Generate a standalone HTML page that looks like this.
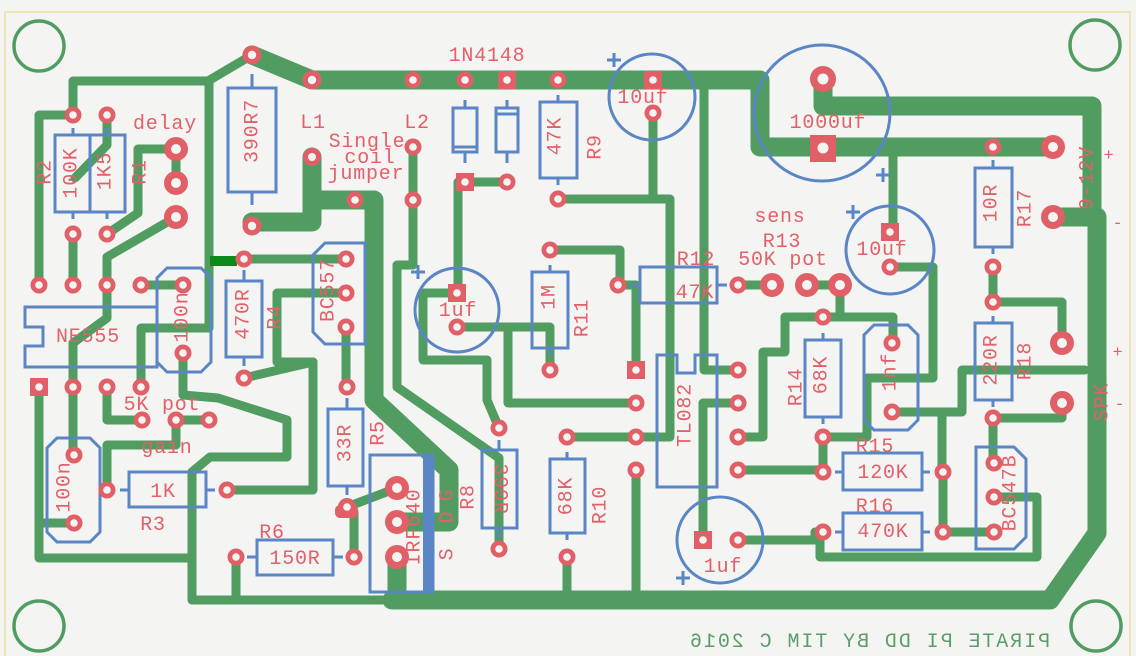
<!DOCTYPE html>
<html><head><meta charset="utf-8"><style>
html,body{margin:0;padding:0;background:#f4f4f2;overflow:hidden;width:1136px;height:656px;}
svg{display:block}
text{font-family:"Liberation Mono","DejaVu Sans Mono",monospace;font-size:20px;fill:#e3606a;letter-spacing:0.8px}
.r{text-anchor:middle;dominant-baseline:central}
</style></head><body>
<svg width="1136" height="656" viewBox="0 0 1136 656" xmlns="http://www.w3.org/2000/svg">
<rect width="1136" height="656" fill="#f4f4f2"/>
<path d="M5,656 V12 H1130 V656" fill="none" stroke="#e8dc8c" stroke-width="1.2"/>
<g fill="none" stroke="#519c61" stroke-width="3.5">
<circle cx="39" cy="46" r="25"/><circle cx="1095" cy="45" r="25"/><circle cx="39" cy="626" r="25"/><circle cx="1096" cy="626" r="25"/>
</g>
<!-- thin traces -->
<g fill="none" stroke="#519c61" stroke-width="9" stroke-linejoin="round" stroke-linecap="round">
<path d="M39,285 V115 H73"/>
<path d="M73,115 V81 H208 L252,55"/>
<path d="M209,81 V328 H141 V387"/>
<path d="M107,115 V145 L75,178"/>
<path d="M107,234 L138,213 V149 H176 V183"/>
<path d="M176,217 L107,257 V318 L73,343 V387"/>
<path d="M73,234 V285"/>
<path d="M141,285 H183"/>
<path d="M183,353 V395 L218,398 L287,420 V457 H210 L192,472 V600"/>
<path d="M39,387 V558 H192"/>
<path d="M107,387 V420 H142"/>
<path d="M176,420 H209"/>
<path d="M176,420 V445 H107 V490"/>
<path d="M73,387 V455"/>
<path d="M74,523 H39"/>
<path d="M227,490 H313 V362 L244,378"/>
<path d="M346,293 H277 V362 H313"/>
<path d="M244,259 H346"/>
<path d="M346,327 V387"/>
<path d="M236,557 V600"/>
<path d="M354,557 V512 L347,507 L397,488"/>
<path d="M192,600 H392"/>
<path d="M413,147 V265 H397 V387 L499,458 V549"/>
<path d="M465,182 H507"/>
<path d="M458,182 V293"/>
<path d="M457,293 H423 V360 H487 V400 L499,428"/>
<path d="M457,327 H550 V370"/>
<path d="M508,327 V403 H636"/>
<path d="M550,250 H620 V285"/>
<path d="M618,285 H636 V370"/>
<path d="M558,199 H670 V437 H567"/>
<path d="M653,113 V199"/>
<path d="M704,80 V370 H738"/>
<path d="M636,470 V600"/>
<path d="M567,557 V600"/>
<path d="M703,540 V403 H738"/>
<path d="M738,285 H772"/>
<path d="M807,285 H840 V317 H785 V352 H763 V437 H738"/>
<path d="M785,317 H893 V343"/>
<path d="M738,470 H823"/>
<path d="M823,437 V472"/>
<path d="M890,267 H933 V378 H867 V437 H823"/>
<path d="M893,147 V232"/>
<path d="M738,540 H815 V532 H823"/>
<path d="M820,532 V557 H1037 V497 H994"/>
<path d="M943,472 V532 H994"/>
<path d="M892,412 H962 V370 H1085"/>
<path d="M942,412 V472"/>
<path d="M993,267 V302 H1062 V343"/>
<path d="M993,418 V463"/>
<path d="M993,418 H1062 V403"/>
</g>
<!-- thick traces -->
<g fill="none" stroke="#519c61" stroke-width="19" stroke-linejoin="round" stroke-linecap="round">
<path d="M312,80 H760 V147 H1053"/>
<path d="M252,55 L312,80"/>
<path d="M823,79 V106 H1092 V208"/>
<path d="M1053,217 H1097 V533 L1050,600 H392"/>
<path d="M312,157 V222 H252"/>
<path d="M312,200 H374 V400 L449,470 V522 H397"/>
<path d="M397,557 V600"/>
</g>
<rect x="210" y="256" width="27" height="10" fill="#0b8a1b"/>
<!-- silkscreen -->
<g fill="none" stroke="#5b86c6" stroke-width="3">
<rect x="55" y="135" width="35" height="77"/><rect x="90" y="135" width="35" height="77"/>
<path d="M73,128V135 M73,212V219 M107,128V135 M107,212V219"/>
<rect x="228" y="88" width="48" height="104"/><path d="M252,74V88 M252,192V205"/>
<path d="M25,307 H157 V367 H25 V346 H43 V327 H25 Z"/>
<path d="M167,268 H201 L211,278 V362 L201,372 H167 L157,362 V278 Z"/>
<rect x="226" y="281" width="36" height="76"/><path d="M244,270V281 M244,357V366"/>
<path d="M325,243 H365 V344 H325 L313,332 V255 Z"/>
<rect x="328" y="409" width="35" height="77"/><path d="M347,398V409 M347,486V495"/>
<rect x="370" y="455" width="63" height="137"/>
<rect x="482" y="450" width="35" height="78"/><path d="M499,440V450 M499,528V538"/>
<rect x="257" y="540" width="76" height="35"/><path d="M247,557H257 M333,557H343"/>
<rect x="129" y="472" width="77" height="35"/><path d="M120,490H129 M206,490H215"/>
<path d="M57,438 H90 L100,448 V532 L90,542 H57 L47,532 V448 Z"/>
<rect x="453" y="108" width="24" height="44"/><path d="M453,147H477 M465,100V108 M465,152V163"/>
<rect x="496" y="108" width="22" height="44"/><path d="M496,114H518 M507,100V108 M507,152V163"/>
<rect x="540" y="102" width="37" height="76"/><path d="M558,95V102 M558,178V185"/>
<circle cx="652" cy="97" r="43"/><circle cx="822" cy="113" r="68"/><circle cx="457" cy="310" r="42"/><circle cx="720" cy="540" r="43"/><circle cx="890" cy="250" r="44"/>
<rect x="532" y="272" width="36" height="76"/><path d="M550,265V272 M550,348V355"/>
<rect x="640" y="267" width="77" height="36"/><path d="M630,285H640 M717,285H727"/>
<path d="M657,355 H677 V373 H695 V355 H717 V487 H657 Z"/>
<rect x="550" y="459" width="35" height="74"/><path d="M567,452V459 M567,533V540"/>
<rect x="805" y="340" width="36" height="77"/><path d="M823,333V340 M823,417V424"/>
<path d="M874,325 H908 L918,335 V420 L908,430 H874 L864,420 V335 Z"/>
<rect x="975" y="168" width="37" height="79"/><path d="M993,160V168 M993,247V254"/>
<rect x="975" y="323" width="37" height="77"/><path d="M993,316V323 M993,400V407"/>
<rect x="843" y="453" width="79" height="37"/><path d="M835,472H843 M922,472H930"/>
<rect x="843" y="513" width="79" height="37"/><path d="M835,532H843 M922,532H930"/>
<path d="M976,447 H1014 L1026,459 V537 L1014,549 H976 Z"/>
<path d="M607,60H621 M614,53V67 M411,272H425 M418,265V279 M846,212H860 M853,205V219 M876,175H890 M883,168V182 M676,578H690 M683,571V585"/>
</g>
<rect x="423" y="455" width="10" height="137" fill="#5b86c6"/>
<!-- pads -->
<g fill="#e15f66">
<circle cx="73" cy="115" r="8.5"/><circle cx="107" cy="115" r="8.5"/><circle cx="73" cy="234" r="8.5"/><circle cx="107" cy="234" r="8.5"/>
<circle cx="39" cy="285" r="8.5"/><circle cx="73" cy="285" r="8.5"/><circle cx="107" cy="285" r="8.5"/><circle cx="141" cy="285" r="8.5"/>
<circle cx="183" cy="285" r="8.5"/><circle cx="183" cy="353" r="8.5"/><circle cx="73" cy="387" r="8.5"/><circle cx="107" cy="387" r="8.5"/><circle cx="141" cy="387" r="8.5"/>
<circle cx="244" cy="259" r="8.5"/><circle cx="244" cy="378" r="8.5"/><circle cx="346" cy="259" r="8.5"/><circle cx="346" cy="293" r="8.5"/><circle cx="346" cy="327" r="8.5"/><circle cx="347" cy="387" r="8.5"/>
<circle cx="252" cy="55" r="9.5"/><circle cx="312" cy="80" r="9.5"/><circle cx="252" cy="226" r="9.5"/><circle cx="312" cy="157" r="9"/><circle cx="355" cy="200" r="8.5"/>
<circle cx="413" cy="80" r="8.5"/><circle cx="465" cy="80" r="8.5"/><circle cx="558" cy="80" r="8.5"/><circle cx="413" cy="147" r="8.5"/><circle cx="413" cy="200" r="8.5"/>
<circle cx="507" cy="182" r="8.5"/><circle cx="558" cy="199" r="8.5"/><circle cx="653" cy="113" r="8.5"/><circle cx="457" cy="327" r="8.5"/>
<circle cx="550" cy="250" r="8.5"/><circle cx="550" cy="370" r="8.5"/><circle cx="618" cy="285" r="8.5"/><circle cx="738" cy="285" r="8.5"/>
<circle cx="636" cy="403" r="8.5"/><circle cx="636" cy="437" r="8.5"/><circle cx="636" cy="470" r="8.5"/>
<circle cx="738" cy="370" r="8.5"/><circle cx="738" cy="403" r="8.5"/><circle cx="738" cy="437" r="8.5"/><circle cx="738" cy="470" r="8.5"/>
<circle cx="567" cy="437" r="8.5"/><circle cx="567" cy="557" r="8.5"/><circle cx="499" cy="428" r="8.5"/><circle cx="499" cy="549" r="8.5"/>
<circle cx="142" cy="420" r="8.5"/><circle cx="176" cy="420" r="8.5"/><circle cx="209" cy="420" r="8.5"/>
<circle cx="107" cy="490" r="8.5"/><circle cx="227" cy="490" r="8.5"/><circle cx="74" cy="455" r="8.5"/><circle cx="74" cy="523" r="8.5"/>
<circle cx="236" cy="557" r="8.5"/><circle cx="354" cy="557" r="8.5"/>
<circle cx="823" cy="317" r="8.5"/><circle cx="823" cy="437" r="8.5"/><circle cx="823" cy="472" r="8.5"/><circle cx="943" cy="472" r="8.5"/>
<circle cx="823" cy="532" r="8.5"/><circle cx="943" cy="532" r="8.5"/><circle cx="738" cy="540" r="8.5"/>
<circle cx="890" cy="267" r="8.5"/><circle cx="892" cy="343" r="8.5"/><circle cx="892" cy="412" r="8.5"/>
<circle cx="993" cy="147" r="8.5"/><circle cx="993" cy="267" r="8.5"/><circle cx="993" cy="302" r="8.5"/><circle cx="993" cy="418" r="8.5"/>
<circle cx="994" cy="463" r="8.5"/><circle cx="994" cy="497" r="8.5"/><circle cx="994" cy="532" r="8.5"/>
<circle cx="176" cy="149" r="12"/><circle cx="176" cy="183" r="12"/><circle cx="176" cy="217" r="12"/>
<circle cx="397" cy="488" r="12"/><circle cx="397" cy="522" r="12"/><circle cx="397" cy="557" r="12"/>
<circle cx="772" cy="285" r="12"/><circle cx="807" cy="285" r="12"/><circle cx="840" cy="285" r="12"/>
<circle cx="1053" cy="147" r="12"/><circle cx="1053" cy="217" r="12"/><circle cx="1062" cy="343" r="12"/><circle cx="1062" cy="403" r="12"/>
<circle cx="823" cy="79" r="13"/>
<rect x="30" y="378" width="18" height="18"/><rect x="456" y="173" width="18" height="18"/><rect x="498" y="71" width="18" height="18"/>
<rect x="644" y="71" width="18" height="18"/><rect x="448" y="284" width="18" height="18"/><rect x="627" y="361" width="18" height="18"/>
<rect x="694" y="531" width="18" height="18"/><rect x="881" y="223" width="18" height="18"/><rect x="810" y="135" width="26" height="27"/>
<circle cx="347" cy="507" r="9"/><rect x="335" y="505" width="23" height="13" rx="5"/>
</g>
<g fill="#f4f4f2">
<circle cx="73" cy="115" r="3.8"/><circle cx="107" cy="115" r="3.8"/><circle cx="73" cy="234" r="3.8"/><circle cx="107" cy="234" r="3.8"/>
<circle cx="39" cy="285" r="3.8"/><circle cx="73" cy="285" r="3.8"/><circle cx="107" cy="285" r="3.8"/><circle cx="141" cy="285" r="3.8"/>
<circle cx="183" cy="285" r="3.8"/><circle cx="183" cy="353" r="3.8"/><circle cx="73" cy="387" r="3.8"/><circle cx="107" cy="387" r="3.8"/><circle cx="141" cy="387" r="3.8"/>
<circle cx="244" cy="259" r="3.8"/><circle cx="244" cy="378" r="3.8"/><circle cx="346" cy="259" r="3.8"/><circle cx="346" cy="293" r="3.8"/><circle cx="346" cy="327" r="3.8"/><circle cx="347" cy="387" r="3.8"/>
<circle cx="252" cy="55" r="4.2"/><circle cx="312" cy="80" r="4.2"/><circle cx="252" cy="226" r="4.2"/><circle cx="312" cy="157" r="4"/><circle cx="355" cy="200" r="3.8"/>
<circle cx="413" cy="80" r="3.8"/><circle cx="465" cy="80" r="3.8"/><circle cx="558" cy="80" r="3.8"/><circle cx="413" cy="147" r="3.8"/><circle cx="413" cy="200" r="3.8"/>
<circle cx="507" cy="182" r="3.8"/><circle cx="558" cy="199" r="3.8"/><circle cx="653" cy="113" r="3.8"/><circle cx="457" cy="327" r="3.8"/>
<circle cx="550" cy="250" r="3.8"/><circle cx="550" cy="370" r="3.8"/><circle cx="618" cy="285" r="3.8"/><circle cx="738" cy="285" r="3.8"/>
<circle cx="636" cy="403" r="3.8"/><circle cx="636" cy="437" r="3.8"/><circle cx="636" cy="470" r="3.8"/>
<circle cx="738" cy="370" r="3.8"/><circle cx="738" cy="403" r="3.8"/><circle cx="738" cy="437" r="3.8"/><circle cx="738" cy="470" r="3.8"/>
<circle cx="567" cy="437" r="3.8"/><circle cx="567" cy="557" r="3.8"/><circle cx="499" cy="428" r="3.8"/><circle cx="499" cy="549" r="3.8"/>
<circle cx="142" cy="420" r="3.8"/><circle cx="176" cy="420" r="3.8"/><circle cx="209" cy="420" r="3.8"/>
<circle cx="107" cy="490" r="3.8"/><circle cx="227" cy="490" r="3.8"/><circle cx="74" cy="455" r="3.8"/><circle cx="74" cy="523" r="3.8"/>
<circle cx="236" cy="557" r="3.8"/><circle cx="354" cy="557" r="3.8"/>
<circle cx="823" cy="317" r="3.8"/><circle cx="823" cy="437" r="3.8"/><circle cx="823" cy="472" r="3.8"/><circle cx="943" cy="472" r="3.8"/>
<circle cx="823" cy="532" r="3.8"/><circle cx="943" cy="532" r="3.8"/><circle cx="738" cy="540" r="3.8"/>
<circle cx="890" cy="267" r="3.8"/><circle cx="892" cy="343" r="3.8"/><circle cx="892" cy="412" r="3.8"/>
<circle cx="993" cy="147" r="3.8"/><circle cx="993" cy="267" r="3.8"/><circle cx="993" cy="302" r="3.8"/><circle cx="993" cy="418" r="3.8"/>
<circle cx="994" cy="463" r="3.8"/><circle cx="994" cy="497" r="3.8"/><circle cx="994" cy="532" r="3.8"/>
<circle cx="176" cy="149" r="5"/><circle cx="176" cy="183" r="5"/><circle cx="176" cy="217" r="5"/>
<circle cx="397" cy="488" r="5"/><circle cx="397" cy="522" r="5"/><circle cx="397" cy="557" r="5"/>
<circle cx="772" cy="285" r="5"/><circle cx="807" cy="285" r="5"/><circle cx="840" cy="285" r="5"/>
<circle cx="1053" cy="147" r="5"/><circle cx="1053" cy="217" r="5"/><circle cx="1062" cy="343" r="5"/><circle cx="1062" cy="403" r="5"/>
<circle cx="823" cy="79" r="5.5"/>
<circle cx="39" cy="387" r="3.8"/><circle cx="465" cy="182" r="3.8"/><circle cx="507" cy="80" r="3.8"/>
<circle cx="653" cy="80" r="3.8"/><circle cx="457" cy="293" r="3.8"/><circle cx="636" cy="370" r="3.8"/>
<circle cx="703" cy="540" r="3.8"/><circle cx="890" cy="232" r="3.8"/><circle cx="823" cy="148" r="5.5"/>
<circle cx="347" cy="507" r="3.8"/>
</g>
<!-- horizontal labels -->
<g text-anchor="middle">
<text x="165" y="129">delay</text>
<text x="313" y="128">L1</text>
<text x="367" y="147">Single</text>
<text x="370" y="163">coil</text>
<text x="366" y="179">jumper</text>
<text x="417" y="128">L2</text>
<text x="487" y="61">1N4148</text>
<text x="643" y="103">10uf</text>
<text x="828" y="128">1000uf</text>
<text x="780" y="222">sens</text>
<text x="782" y="247">R13</text>
<text x="783" y="265">50K pot</text>
<text x="882" y="255">10uf</text>
<text x="696" y="265">R12</text>
<text x="695" y="298">47K</text>
<text x="88" y="342">NE555</text>
<text x="162" y="410">5K pot</text>
<text x="167" y="453">gain</text>
<text x="163" y="497">1K</text>
<text x="153" y="530">R3</text>
<text x="272" y="538">R6</text>
<text x="295" y="564">150R</text>
<text x="458" y="316">1uf</text>
<text x="723" y="572">1uf</text>
<text x="875" y="452">R15</text>
<text x="883" y="478">120K</text>
<text x="875" y="512">R16</text>
<text x="883" y="537">470K</text>
<text x="1109" y="160" style="font-size:17px">+</text>
<text x="1118" y="228" style="font-size:17px">-</text>
<text x="1118" y="357" style="font-size:17px">+</text>
<text x="1120" y="409" style="font-size:17px">-</text>
</g>
<!-- rotated labels -->
<text class="r" transform="translate(46,172) rotate(-90)">R2</text>
<text class="r" transform="translate(72,173) rotate(-90)">100K</text>
<text class="r" transform="translate(106,171) rotate(-90)">1K5</text>
<text class="r" transform="translate(141,172) rotate(-90)">R1</text>
<text class="r" transform="translate(253,131) rotate(-90)">390R7</text>
<text class="r" transform="translate(276,317) rotate(-90)">R4</text>
<text class="r" transform="translate(244,314) rotate(-90)">470R</text>
<text class="r" transform="translate(329,290) rotate(-90)">BC557</text>
<text class="r" transform="translate(183,317) rotate(-90)">100n</text>
<text class="r" transform="translate(65,487) rotate(-90)">100n</text>
<text class="r" transform="translate(346,443) rotate(-90)">33R</text>
<text class="r" transform="translate(379,433) rotate(-90)">R5</text>
<text class="r" transform="translate(415,527) rotate(-90)">IRF640</text>
<text class="r" transform="translate(448,517) rotate(-90)">D</text>
<text class="r" transform="translate(448,495) rotate(-90)">G</text>
<text class="r" transform="translate(448,554) rotate(-90)">S</text>
<text class="r" transform="translate(469,497) rotate(-90)">R8</text>
<text class="r" transform="translate(499,489) rotate(90)">390R</text>
<text class="r" transform="translate(556,136) rotate(-90)">47K</text>
<text class="r" transform="translate(596,147) rotate(-90)">R9</text>
<text class="r" transform="translate(550,297) rotate(-90)">1M</text>
<text class="r" transform="translate(583,318) rotate(-90)">R11</text>
<text class="r" transform="translate(567,496) rotate(-90)">68K</text>
<text class="r" transform="translate(601,505) rotate(-90)">R10</text>
<text class="r" transform="translate(686,415) rotate(-90)">TL082</text>
<text class="r" transform="translate(822,375) rotate(-90)">68K</text>
<text class="r" transform="translate(797,387) rotate(-90)">R14</text>
<text class="r" transform="translate(891,372) rotate(-90)">1nf</text>
<text class="r" transform="translate(992,203) rotate(-90)">10R</text>
<text class="r" transform="translate(1026,208) rotate(-90)">R17</text>
<text class="r" transform="translate(992,360) rotate(-90)">220R</text>
<text class="r" transform="translate(1026,361) rotate(-90)">R18</text>
<text class="r" transform="translate(1011,493) rotate(-90)">BC547B</text>
<text class="r" transform="translate(1088,178) rotate(-90)">9-12V</text>
<text class="r" transform="translate(1103,402) rotate(-90)">SPK</text>
<!-- mirrored copper text -->
<text transform="matrix(-1,0,0,1,1740,0)" x="690" y="647" textLength="360" lengthAdjust="spacing" style="fill:#5b9d69;letter-spacing:0">PIRATE PI DD BY TIM C 2016</text>
</svg>
</body></html>
